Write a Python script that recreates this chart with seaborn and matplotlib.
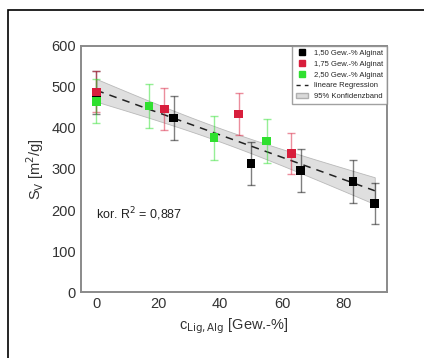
import numpy as np
import pandas as pd
import seaborn as sns
import matplotlib.pyplot as plt
from matplotlib.lines import Line2D
from matplotlib.patches import Patch, Rectangle

# data
x_150 = [0, 25, 50, 66, 83, 90]
y_150 = [486, 424, 314, 296, 270, 216]
e_150 = [52, 53, 52, 52, 53, 51]

x_175 = [0, 22, 46, 63]
y_175 = [488, 446, 434, 338]
e_175 = [50, 51, 52, 50]

x_250 = [0, 17, 38, 55]
y_250 = [465, 453, 376, 368]
e_250 = [54, 54, 53, 54]

series = ['1,50 Gew.-% Alginat', '1,75 Gew.-% Alginat', '2,50 Gew.-% Alginat']
colors = ['#000000', '#d81e3c', '#2fe02f']

df = pd.concat([
    pd.DataFrame({'x': x_150, 'y': y_150, 'err': e_150, 'serie': series[0]}),
    pd.DataFrame({'x': x_175, 'y': y_175, 'err': e_175, 'serie': series[1]}),
    pd.DataFrame({'x': x_250, 'y': y_250, 'err': e_250, 'serie': series[2]}),
], ignore_index=True)

sns.set_style('white')
plt.rcParams['font.family'] = ['Liberation Sans', 'DejaVu Sans']

fig = plt.figure(figsize=(4.24, 3.58), dpi=100)
ax = fig.add_axes([0.191, 0.184, 0.722, 0.688])

# linear regression + 95% band
slope, icpt = np.polyfit(df['x'], df['y'], 1)
xs = np.linspace(0, 90, 100)
yfit = icpt + slope * xs
n = len(df)
resid = df['y'] - (icpt + slope * df['x'])
s = np.sqrt((resid ** 2).sum() / (n - 2))
xm = df['x'].mean()
sxx = ((df['x'] - xm) ** 2).sum()
half = 2.16 * s * np.sqrt(1 / n + (xs - xm) ** 2 / sxx)
ax.fill_between(xs, yfit - half, yfit + half, color='#dadada', alpha=0.85,
                edgecolor='#b0b0b0', linewidth=0.6, zorder=1)
sns.lineplot(x=xs, y=yfit, ax=ax, color='#222222', linestyle=(0, (5, 4)),
             linewidth=1.1, zorder=2)

for name, c in zip(series, colors):
    d = df[df['serie'] == name]
    ax.errorbar(d['x'], d['y'], yerr=d['err'], fmt='none', ecolor=c,
                alpha=0.5, elinewidth=1.0, capsize=3, capthick=1.0, zorder=3)

sns.scatterplot(data=df, x='x', y='y', hue='serie', palette=colors,
                marker='s', s=38, edgecolor='none', ax=ax, legend=False, zorder=4)

ax.set_xlim(-5, 94)
ax.set_ylim(0, 600)
ax.set_xticks([0, 20, 40, 60, 80])
ax.set_yticks(range(0, 601, 100))
ax.set_xticks(range(0, 91, 10), minor=True)
ax.set_yticks(range(0, 601, 50), minor=True)
ax.tick_params(which='both', direction='in', colors='#888888', labelcolor='#333333',
               labelsize=10.5)
ax.tick_params(which='major', length=3)
ax.tick_params(which='minor', length=1.5)
for sp in ax.spines.values():
    sp.set_color('#8a8a8a')
    sp.set_linewidth(1.4)

ax.set_xlabel(r'c$_{\mathrm{Lig,Alg}}$ [Gew.-%]', fontsize=10.5, color='#333333')
ax.set_ylabel(r'S$_\mathrm{V}$ [m$^2$/g]', fontsize=10.5, color='#333333')

ax.text(0, 191, 'kor. R$^2$ = 0,887', fontsize=9, color='#222222', va='center')

handles = [Line2D([], [], marker='s', color=c, linestyle='none', markersize=4.5) for c in colors]
handles.append(Line2D([], [], color='#222222', linestyle=(0, (3, 3)), linewidth=1))
handles.append(Patch(facecolor='#dadada', edgecolor='#b0b0b0'))
labels = series + ['lineare Regression', '95% Konfidenzband']
leg = ax.legend(handles, labels, loc='upper right', fontsize=5.5, frameon=True,
                fancybox=False, borderaxespad=0, handlelength=1.6,
                labelspacing=0.45, borderpad=0.5)
leg.get_frame().set_edgecolor('#8a8a8a')
leg.get_frame().set_linewidth(1.0)

# outer frame of the figure
fig.patches.append(Rectangle((8 / 424, -0.1), 1.2, 1.1 - 10 / 358,
                             transform=fig.transFigure, fill=False,
                             edgecolor='black', linewidth=1.2))

fig.savefig('out.png', dpi=100)
